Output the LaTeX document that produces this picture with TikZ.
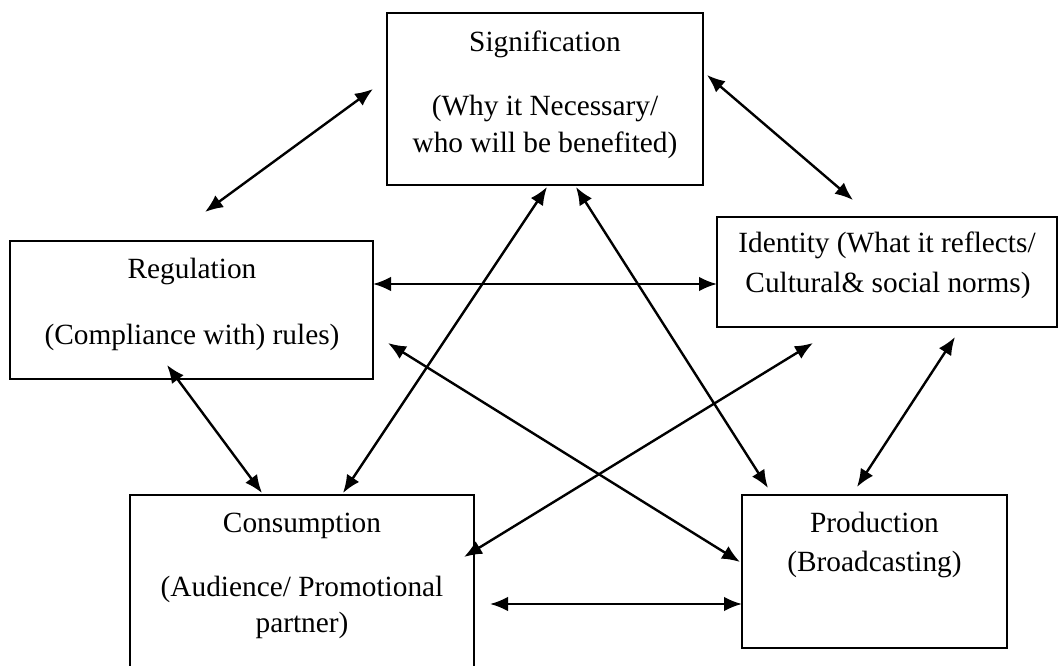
\documentclass[tikz,border=0pt]{standalone}
\usepackage{fontspec}
\setmainfont{Liberation Serif}
\usetikzlibrary{arrows.meta,calc}
\tikzset{every picture/.style={line width=1.8pt}}
\tikzset{
  box/.style={draw, rectangle, outer sep=0pt, inner sep=0pt, line width=1.5pt},
  link/.style={{Latex[length=13.5pt,width=11pt]}-{Latex[length=13.5pt,width=11pt]}, line width=1.8pt},
  lbl/.style={anchor=base, inner sep=0.75pt, font=\fontsize{22}{27}\selectfont}
}

\begin{document}
\begin{tikzpicture}[x=0.75pt,y=0.75pt,yscale=-1,xscale=1]
\useasboundingbox (0,0) rectangle (1058,666);

%Shape: Rectangle
\node[box, minimum width=237pt, minimum height=129pt] (sig) at (545,99) {};
%Shape: Rectangle
\node[box, minimum width=272.25pt, minimum height=103.5pt] (reg) at (191.5,310) {};
%Shape: Rectangle
\node[box, minimum width=255pt, minimum height=82.5pt] (ide) at (887,272) {};
%Shape: Rectangle
\node[box, minimum width=258pt, minimum height=146.25pt] (con) at (302,592.5) {};
%Shape: Rectangle
\node[box, minimum width=198.75pt, minimum height=114.75pt] (pro) at (874.5,571.5) {};

%Straight Lines
\draw [link] ($(sig.north west)+(-14,76)$) -- ($(reg.north west)+(195,-29)$);
%Straight Lines
\draw [link] ($(sig.north east)+(4,62)$) -- ($(ide.north west)+(136,-17)$);
%Straight Lines
\draw [link] ($(reg.north east)+(0,43)$) -- ($(ide.north west)+(0,67)$);
%Straight Lines
\draw [link] ($(sig.south west)+(160,2)$) -- ($(con.north west)+(213,-2)$);
%Straight Lines
\draw [link] ($(sig.south west)+(189,2)$) -- ($(pro.north west)+(26,-7)$);
%Straight Lines
\draw [link] ($(reg.south west)+(157,-14)$) -- ($(con.north west)+(132,-2)$);
%Straight Lines
\draw [link] ($(reg.south east)+(15,-36)$) -- ($(pro.north west)+(-2,67)$);
%Straight Lines
\draw [link] ($(ide.south west)+(96,16)$) -- ($(con.north east)+(-10,62)$);
%Straight Lines
\draw [link] ($(ide.south west)+(238,10)$) -- ($(pro.north west)+(115,-8)$);
%Straight Lines
\draw [link] ($(con.north east)+(16,109)$) -- ($(pro.north west)+(0,109)$);

% Text Node
\draw (545,52) node [lbl] (sigA) {Signification};
% Text Node
\draw (545,116) node [lbl] (sigB) {(Why it Necessary/};
% Text Node
\draw (545,153) node [lbl] (sigC) {who will be benefited)};
% Text Node
\draw (192,279) node [lbl] (regA) {Regulation};
% Text Node
\draw (192,345) node [lbl] (regB) {(Compliance with) rules)};
% Text Node
\draw (887,253) node [lbl] (ideA) {Identity (What it reflects/};
% Text Node
\draw (888,293) node [lbl] (ideB) {Cultural\& social norms)};
% Text Node
\draw (302,533) node [lbl] (conA) {Consumption};
% Text Node
\draw (302,597) node [lbl] (conB) {(Audience/ Promotional};
% Text Node
\draw (302,633) node [lbl] (conC) {partner)};
% Text Node
\draw (874.5,533) node [lbl] (proA) {Production};
% Text Node
\draw (874.5,572) node [lbl] (proB) {(Broadcasting)};

\end{tikzpicture}
\end{document}
